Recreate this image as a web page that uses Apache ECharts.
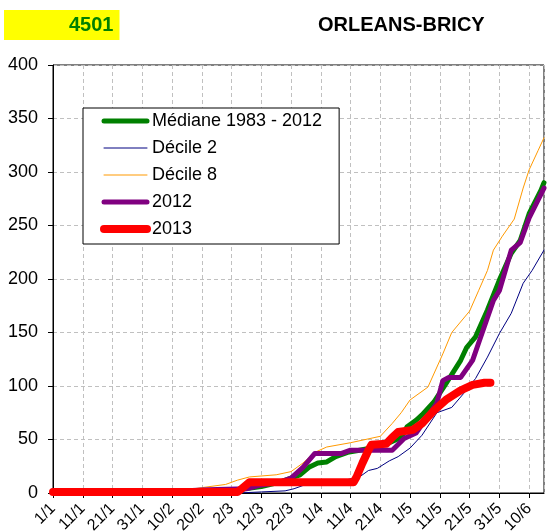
<!DOCTYPE html>
<html>
<head>
<meta charset="utf-8">
<script src="https://cdn.jsdelivr.net/npm/echarts@6/dist/echarts.min.js"></script>
<style>
html, body { margin: 0; padding: 0; background: #fff; }
#chart { width: 547px; height: 532px; }
</style>
</head>
<body>
<div id="chart"></div>
<script>
// x = day of year (1/1 = 0), y = value
const tickLabels = ['1/1', '11/1', '21/1', '31/1', '10/2', '20/2', '2/3', '12/3', '22/3',
    '1/4', '11/4', '21/4', '1/5', '11/5', '21/5', '31/5', '10/6']

const median = [[0, 1], [40, 1], [55, 2], [62, 3], [70, 6], [76, 10], [80, 14], [83, 17], [86, 24],
    [89, 28], [92, 29], [95, 34], [99, 38], [103, 40], [107, 42], [113, 47], [117, 52], [119, 62],
    [122, 68], [124, 73], [128, 85], [132, 102], [137, 124], [139, 136], [142, 146], [146, 171],
    [150, 199], [154, 224], [157, 236], [160, 261], [164, 283], [165, 290]]

const decile2 = [[0, 0], [62, 0], [70, 1], [78, 2], [81, 4], [84, 7], [90, 9], [98, 12], [103, 15],
    [106, 21], [109, 23], [113, 30], [116, 34], [120, 42], [124, 54], [129, 75], [134, 80], [138, 93],
    [142, 107], [146, 127], [150, 149], [154, 168], [158, 196], [161, 208], [165, 227]]

const decile8 = [[0, 2], [30, 2], [45, 3], [50, 5], [58, 8], [62, 12], [66, 15], [75, 17], [80, 20],
    [84, 28], [88, 38], [92, 43], [100, 47], [110, 53], [114, 65], [117, 75], [120, 87], [126, 99],
    [131, 130], [134, 150], [140, 170], [143, 189], [146, 208], [148, 227], [151, 240], [155, 256],
    [158, 285], [160, 302], [163, 320], [165, 332]]

const year2012 = [[0, 2], [45, 2], [52, 3], [65, 4], [69, 7], [76, 10], [80, 14], [84, 24], [88, 37],
    [97, 37], [100, 40], [114, 40], [118, 51], [122, 56], [125, 68], [129, 84], [131, 105], [133, 108],
    [137, 108], [141, 124], [143, 140], [148, 180], [150, 189], [152, 208], [154, 227], [157, 234],
    [160, 257], [165, 285]]

const year2013 = [[0, 1], [62, 1], [63, 3], [66, 10], [101, 10], [102, 15], [104, 28], [106, 40],
    [107, 45], [112, 46], [114, 52], [116, 57], [121, 59], [124, 65], [128, 77], [132, 87], [137, 96],
    [141, 101], [145, 103], [147, 103]]

const seriesDefs = [
    { name: 'Médiane 1983 - 2012', data: median, color: '#008000', width: 5 },
    { name: 'Décile 2', data: decile2, color: '#000080', width: 1 },
    { name: 'Décile 8', data: decile8, color: '#FF9900', width: 1 },
    { name: '2012', data: year2012, color: '#800080', width: 5 },
    { name: '2013', data: year2013, color: '#FF0000', width: 8 }
]

const font = 'Liberation Sans, Arial, sans-serif'
const dashed = { type: [4, 3], color: '#c0c0c0', width: 1 }

let series = []
seriesDefs.forEach(s => {
    series.push({
        name: s.name,
        type: 'line',
        showSymbol: false,
        symbol: 'none',
        animation: false,
        color: s.color,
        lineStyle: { color: s.color, width: s.width, cap: 'round', join: 'round' },
        data: s.data
    })
})

let myChart = echarts.init(document.getElementById('chart'))
let option = {
    backgroundColor: '#fff',
    title: [
        {
            text: '4501',
            left: 4,
            top: 10,
            backgroundColor: '#ffff00',
            padding: [5, 6, 5, 65],
            textStyle: { color: '#008000', fontSize: 20, fontWeight: 'bold', fontFamily: font, lineHeight: 20 }
        },
        {
            text: 'ORLEANS-BRICY',
            left: 318,
            top: 15,
            padding: 0,
            textStyle: { color: '#000', fontSize: 20, fontWeight: 'bold', fontFamily: font }
        }
    ],
    legend: {
        orient: 'vertical',
        left: 83,
        top: 108,
        backgroundColor: '#fff',
        borderColor: '#000',
        borderWidth: 1,
        padding: [4, 17, 6, 17],
        itemWidth: 43,
        itemHeight: 14,
        itemGap: 9,
        itemStyle: { opacity: 0 },
        textStyle: { fontSize: 18, color: '#000', fontFamily: font },
        data: seriesDefs.map(s => ({
            name: s.name,
            lineStyle: { width: s.width, color: s.color, cap: 'round' }
        }))
    },
    grid: {
        left: 53, right: 3, top: 65, bottom: 39,
        outerBoundsMode: 'none',
        containLabel: false,
        show: true, borderColor: '#000', borderWidth: 1
    },
    xAxis: {
        type: 'value',
        min: 0,
        max: 165,
        interval: 10,
        axisLine: { lineStyle: { color: '#000', width: 1 } },
        axisTick: { show: true, length: 5, lineStyle: { color: '#000' } },
        axisLabel: {
            rotate: 45,
            fontSize: 16,
            color: '#000',
            fontFamily: font,
            margin: 13,
            showMaxLabel: false,
            formatter: v => tickLabels[v / 10] || ''
        },
        splitLine: { show: true, lineStyle: dashed }
    },
    yAxis: {
        type: 'value',
        min: 0,
        max: 400,
        interval: 50,
        axisLine: { show: true, lineStyle: { color: '#000', width: 1 } },
        axisTick: { show: true, length: 5, lineStyle: { color: '#000' } },
        axisLabel: { fontSize: 18, color: '#000', fontFamily: font, margin: 15 },
        splitLine: { show: true, lineStyle: dashed }
    },
    series: series
}
myChart.setOption(option)
</script>
</body>
</html>
